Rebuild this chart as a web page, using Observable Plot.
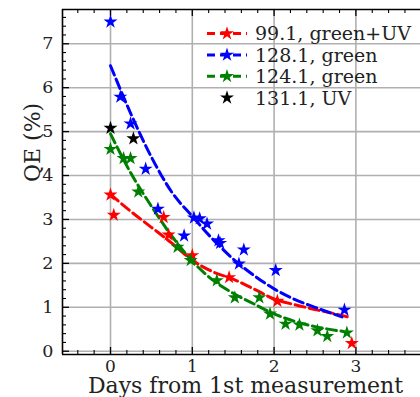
<!DOCTYPE html>
<html><head><meta charset="utf-8">
<script src="https://cdn.jsdelivr.net/npm/d3@7"></script>
<script src="https://cdn.jsdelivr.net/npm/@observablehq/plot@0.6"></script>
<style>
html,body{margin:0;padding:0;background:#fff;overflow:hidden}
#wrap{position:relative;width:420px;height:397px;font-family:"DejaVu Serif",serif}
#legend{position:absolute;left:0;top:0;pointer-events:none}
</style></head><body><div id="wrap"></div>
<script>
// ---- data ----
const redName = "99.1, green+UV";
const redX = [0, 0.04, 0.65, 0.71, 1.0, 1.45, 2.04, 2.95];
const redY = [3.56, 3.1, 3.05, 2.65, 2.18, 1.68, 1.14, 0.18];
const redFitX = [0, 0.25, 0.5, 0.75, 1, 1.25, 1.5, 1.75, 2, 2.25, 2.5, 2.75, 2.93];
const redFitY = [3.57, 3.18, 2.82, 2.46, 2.07, 1.81, 1.64, 1.42, 1.19, 1.06, 0.95, 0.85, 0.77];

const blueName = "128.1, green";
const blueX = [0, 0.12, 0.245, 0.43, 0.58, 0.9, 1.02, 1.09, 1.18, 1.32, 1.34, 1.57, 1.63, 2.02, 2.86];
const blueY = [7.5, 5.79, 5.18, 4.15, 3.24, 2.63, 3.04, 3.02, 2.9, 2.52, 2.46, 1.99, 2.31, 1.84, 0.94];
const blueFitX = [0, 0.25, 0.5, 0.75, 1, 1.25, 1.5, 1.75, 2, 2.25, 2.5, 2.83];
const blueFitY = [6.5, 5.4, 4.42, 3.62, 3.07, 2.55, 2.1, 1.73, 1.42, 1.18, 1.0, 0.78];

const greenName = "124.1, green";
const greenX = [0, 0.16, 0.245, 0.34, 0.82, 0.98, 1.30, 1.52, 1.82, 1.95, 2.14, 2.31, 2.53, 2.65, 2.89];
const greenY = [4.6, 4.39, 4.39, 3.63, 2.37, 2.07, 1.61, 1.22, 1.22, 0.85, 0.62, 0.6, 0.47, 0.34, 0.42];
const greenFitX = [0, 0.25, 0.5, 0.75, 1, 1.25, 1.5, 1.75, 2, 2.25, 2.5, 2.85];
const greenFitY = [4.95, 4.05, 3.3, 2.62, 2.05, 1.62, 1.32, 1.08, 0.85, 0.68, 0.56, 0.45];

const blackName = "131.1, UV";
const blackX = [0, 0.28];
const blackY = [5.08, 4.84];

const xMajor = [0, 1, 2, 3];
const xMinor = [-0.4, -0.2, 0.2, 0.4, 0.6, 0.8, 1.2, 1.4, 1.6, 1.8, 2.2, 2.4, 2.6, 2.8, 3.2, 3.4, 3.6];
const yMajor = [0, 1, 2, 3, 4, 5, 6, 7];
const yMinor = [0.2,0.4,0.6,0.8,1.2,1.4,1.6,1.8,2.2,2.4,2.6,2.8,3.2,3.4,3.6,3.8,4.2,4.4,4.6,4.8,5.2,5.4,5.6,5.8,6.2,6.4,6.6,6.8,7.2,7.4,7.6];
const xDomain = [-0.587, 3.79];
const yDomain = [-0.075, 7.78];
const xTitle = "Days from 1st measurement";
const yTitle = "QE (%)";

// ---- layout ----
const W = 420, H = 397, mL = 62, mR = 0, mT = 9, mB = 43;
const pw = W - mL - mR, ph = H - mT - mB;

const series = [
  {name: redName, color: "#ff0000", x: redX, y: redY, fx: redFitX, fy: redFitY},
  {name: blueName, color: "#0000ff", x: blueX, y: blueY, fx: blueFitX, fy: blueFitY},
  {name: greenName, color: "#008000", x: greenX, y: greenY, fx: greenFitX, fy: greenFitY},
  {name: blackName, color: "#000000", x: blackX, y: blackY}
];
const zip = (xs, ys) => xs.map((x, i) => ({x, y: ys[i]}));
const starR = 4.4;
const dash = "10,4.5";

const marks = [
  Plot.gridX(xMajor, {stroke: "#b0b0b0", strokeOpacity: 1, strokeWidth: 1.6}),
  Plot.gridY(yMajor, {stroke: "#b0b0b0", strokeOpacity: 1, strokeWidth: 1.6}),
  // inward ticks
  Plot.tickX(xMajor, {x: d => d, insetTop: ph - 7, stroke: "#000", strokeWidth: 1.3}),
  Plot.tickX(xMinor, {x: d => d, insetTop: ph - 4, stroke: "#000", strokeWidth: 1.1}),
  Plot.tickX(xMajor, {x: d => d, insetBottom: ph - 7, stroke: "#000", strokeWidth: 1.3}),
  Plot.tickX(xMinor, {x: d => d, insetBottom: ph - 4, stroke: "#000", strokeWidth: 1.1}),
  Plot.tickY(yMajor, {y: d => d, insetRight: pw - 7, stroke: "#000", strokeWidth: 1.3}),
  Plot.tickY(yMinor, {y: d => d, insetRight: pw - 4, stroke: "#000", strokeWidth: 1.1}),
  // tick labels
  Plot.axisX(xMajor, {tickSize: 0, tickPadding: 5, fontSize: 17, label: null, fill: "#222"}),
  Plot.axisY(yMajor, {tickSize: 0, tickPadding: 9, fontSize: 17.5, label: null, fill: "#222"}),
  // frame (left, bottom, top)
  Plot.ruleX([xDomain[0]], {stroke: "#000", strokeWidth: 1.6}),
  Plot.ruleY([yDomain[0]], {stroke: "#000", strokeWidth: 1.6}),
  Plot.ruleY([yDomain[1]], {stroke: "#000", strokeWidth: 1.6}),
  // titles
  Plot.text([xTitle], {frameAnchor: "bottom", dy: 38.5, dx: 4, fontSize: 22, text: d => d, fill: "#222"}),
  Plot.text([yTitle], {frameAnchor: "left", dx: -30, rotate: -90, fontSize: 22, text: d => d, fill: "#222"})
];
for (const s of series) {
  if (s.fx) marks.push(Plot.line(zip(s.fx, s.fy), {x: "x", y: "y", stroke: s.color, strokeWidth: 3, strokeDasharray: dash, curve: "monotone-x"}));
}
for (const s of series) {
  marks.push(Plot.dot(zip(s.x, s.y), {x: "x", y: "y", symbol: "star", r: starR, fill: s.color, stroke: "none"}));
}

const chart = Plot.plot({
  width: W, height: H,
  marginLeft: mL, marginRight: mR, marginTop: mT, marginBottom: mB,
  style: {fontFamily: "DejaVu Serif", background: "#fff", color: "#222", overflow: "hidden"},
  x: {domain: xDomain},
  y: {domain: yDomain},
  marks
});
const wrap = document.getElementById("wrap");
wrap.appendChild(chart);

// ---- legend (overlay) ----
const ns = "http://www.w3.org/2000/svg";
const leg = document.createElementNS(ns, "svg");
leg.setAttribute("id", "legend");
leg.setAttribute("width", W); leg.setAttribute("height", H);
const starPath = d3.symbol(d3.symbolStar, Math.PI * starR * starR)();
series.forEach((s, i) => {
  const cy = 33.5 + i * 21.4;
  if (s.fx) {
    const ln = document.createElementNS(ns, "line");
    ln.setAttribute("x1", 207); ln.setAttribute("x2", 247);
    ln.setAttribute("y1", cy); ln.setAttribute("y2", cy);
    ln.setAttribute("stroke", s.color); ln.setAttribute("stroke-width", 3);
    ln.setAttribute("stroke-dasharray", "8,5");
    leg.appendChild(ln);
  }
  const st = document.createElementNS(ns, "path");
  st.setAttribute("d", starPath);
  st.setAttribute("transform", `translate(227,${cy})`);
  st.setAttribute("fill", s.color);
  leg.appendChild(st);
  const t = document.createElementNS(ns, "text");
  t.setAttribute("x", 255); t.setAttribute("y", cy);
  t.setAttribute("dy", "0.36em");
  t.setAttribute("font-size", 19);
  t.setAttribute("font-family", "DejaVu Serif");
  t.setAttribute("fill", "#222");
  t.textContent = s.name;
  leg.appendChild(t);
});
wrap.appendChild(leg);
</script></body></html>
